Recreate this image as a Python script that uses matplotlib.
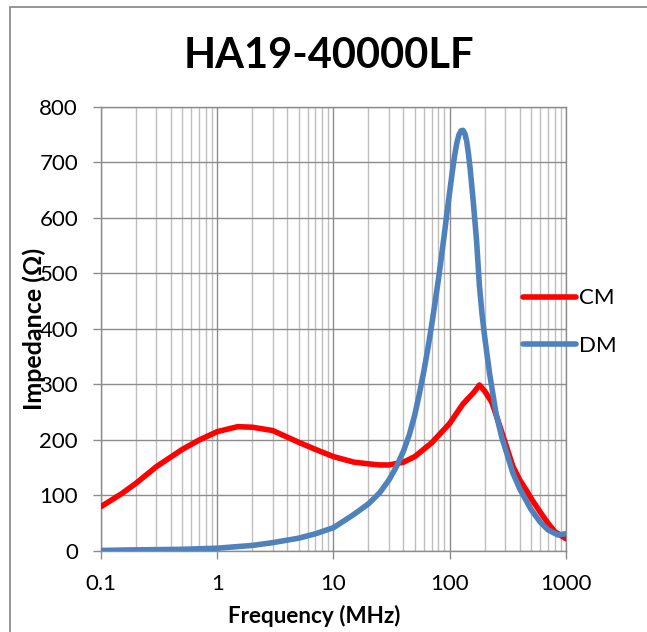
import numpy as np
import matplotlib.pyplot as plt
from matplotlib.patches import Rectangle

plt.rcParams['font.family'] = ['Lato', 'DejaVu Sans']

# Impedance readings (MHz, Ohm)
cm_freq = [0.1, 0.15, 0.2, 0.3, 0.5, 0.7, 1, 1.5, 2, 3, 5, 7, 10, 15, 20, 25, 30, 40, 50,
           70, 100, 130, 160, 180, 200, 230, 260, 300, 350, 400, 460, 500, 600, 700, 800, 900, 1000]
cm_imp = [80, 103, 122, 152, 183, 200, 215, 224, 223, 217, 196, 183, 170, 160, 157, 155, 155, 160, 170,
          195, 230, 265, 285, 299, 288, 268, 235, 195, 152, 128, 108, 95, 70, 50, 35, 28, 22]

dm_freq = [0.1, 0.2, 0.5, 1, 2, 3, 5, 7, 10, 15, 20, 25, 30, 35, 40, 45, 50, 55, 60, 65, 70, 75, 80,
           85, 90, 95, 100, 105, 110, 115, 120, 125, 130, 135, 140, 145, 150, 160, 170, 180, 190,
           200, 220, 250, 280, 300, 350, 400, 500, 600, 700, 850, 1000]
dm_imp = [1, 2, 3, 5, 10, 15, 23, 31, 42, 66, 85, 105, 128, 153, 180, 210, 245, 285, 325, 366, 408,
          450, 490, 532, 572, 612, 648, 682, 712, 735, 750, 757, 758, 752, 738, 715, 688, 625, 560,
          478, 425, 385, 320, 248, 205, 185, 140, 112, 75, 52, 38, 29, 31]

series_names = ['CM', 'DM']
series_colors = ['#FF0000', '#4F81BD']
y_ticks = [0, 100, 200, 300, 400, 500, 600, 700, 800]
x_ticks = [0.1, 1, 10, 100, 1000]
x_tick_labels = ['0.1', '1', '10', '100', '1000']

fig = plt.figure(figsize=(6.47, 6.32), dpi=100)
ax = fig.add_axes([0.1561, 0.1282, 0.8748 - 0.1561, 0.8307 - 0.1282])

ax.plot(cm_freq, cm_imp, color=series_colors[0], lw=4, label=series_names[0],
        solid_joinstyle='round', solid_capstyle='round', zorder=3)
ax.plot(dm_freq, dm_imp, color=series_colors[1], lw=4, label=series_names[1],
        solid_joinstyle='round', solid_capstyle='round', zorder=4)

ax.set_xscale('log')
ax.set_xlim(0.1, 1000)
ax.set_ylim(0, 800)
ax.set_xticks(x_ticks)
ax.set_xticklabels(x_tick_labels)
ax.set_yticks(y_ticks)
ax.minorticks_on()
ax.yaxis.set_minor_locator(plt.NullLocator())

ax.grid(which='major', color='#8C8C8C', lw=1.0)
ax.grid(which='minor', axis='x', color='#BEBEBE', lw=1.0)
ax.set_axisbelow(True)

for s in ax.spines.values():
    s.set_color('#8C8C8C')
    s.set_linewidth(1.0)

ax.tick_params(which='major', direction='out', length=5.5, width=1, color='#8C8C8C',
               labelsize=16)
ax.tick_params(axis='x', pad=11)
ax.tick_params(axis='y', pad=11)
ax.tick_params(which='minor', length=0)

fig.text(0.4853, 0.025, 'Frequency (MHz)', fontsize=16.2, fontweight='bold',
         ha='center', va='center')
fig.text(0.0526, 0.4794, 'Impedance (Ω)', rotation=90, fontsize=18, fontweight='bold',
         ha='center', va='center')

fig.text(0.508, 0.911, 'HA19-40000LF', fontsize=30, fontweight='bold',
         ha='center', va='center')

fig.legend(loc='center left', bbox_to_anchor=(0.808, 0.49), frameon=False,
           fontsize=16, handlelength=2.4, handletextpad=0.15, labelspacing=1.25,
           borderpad=0, borderaxespad=0)

# chart border
fig.patches.append(Rectangle((10 / 647, -0.1), 1.2, 1 - 7 / 632 + 0.1,
                             transform=fig.transFigure, fill=False,
                             edgecolor='#8C8C8C', lw=1.3))

fig.savefig('out.png', dpi=100)
